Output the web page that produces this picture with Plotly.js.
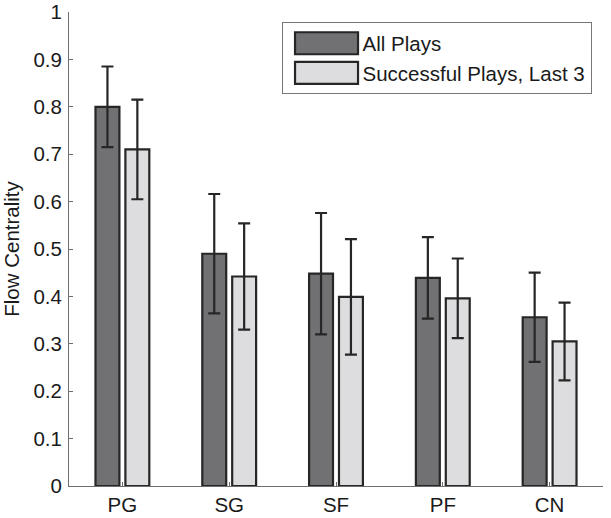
<!DOCTYPE html>
<html>
<head>
<meta charset="utf-8">
<script src="https://cdn.plot.ly/plotly-3.0.1.min.js"></script>
<style>html,body{margin:0;padding:0;background:#fff;}#chart{width:611px;height:518px;}</style>
</head>
<body>
<div id="chart"></div>
<script>
const categories = ["PG", "SG", "SF", "PF", "CN"];
const allPlays = [0.800, 0.490, 0.448, 0.439, 0.356];
const allPlaysErr = [0.085, 0.126, 0.128, 0.086, 0.094];
const successLast3 = [0.710, 0.442, 0.399, 0.396, 0.305];
const successLast3Err = [0.105, 0.112, 0.122, 0.084, 0.082];
const yTicks = [0, 0.1, 0.2, 0.3, 0.4, 0.5, 0.6, 0.7, 0.8, 0.9, 1];

const FONT = "Liberation Sans, Arial, Helvetica, sans-serif";
const EDGE = "#262626";
const TXT = "#1a1a1a";

const traces = [
  {
    type: "bar", name: "All Plays", x: categories, y: allPlays,
    marker: {color: "#717174", line: {color: EDGE, width: 2.2}},
    error_y: {type: "data", array: allPlaysErr, visible: true, color: EDGE, thickness: 2.2, width: 6}
  },
  {
    type: "bar", name: "Successful Plays, Last 3", x: categories, y: successLast3,
    marker: {color: "#dddddf", line: {color: EDGE, width: 2.2}},
    error_y: {type: "data", array: successLast3Err, visible: true, color: EDGE, thickness: 2.2, width: 6}
  }
];

const layout = {
  width: 611, height: 518,
  margin: {l: 69, r: 8, t: 12, b: 32},
  paper_bgcolor: "#fff", plot_bgcolor: "#fff",
  font: {family: FONT, size: 20.5, color: TXT},
  barmode: "group", bargap: 0.44, bargroupgap: 0.2,
  showlegend: true,
  legend: {
    x: 0.398, y: 0.978, xanchor: "left", yanchor: "top",
    bgcolor: "#fff", bordercolor: "#777", borderwidth: 1,
    font: {family: FONT, size: 20.5, color: TXT},
    itemwidth: 70, traceorder: "normal"
  },
  xaxis: {
    type: "category", range: [-0.5, 4.5],
    showline: true, linecolor: "#6e6e6e", linewidth: 1,
    ticks: "inside", ticklen: 4, tickcolor: "#6e6e6e",
    showgrid: false, zeroline: false,
    ticklabelstandoff: 0,
    tickfont: {family: FONT, size: 20.5, color: TXT}
  },
  yaxis: {
    range: [0, 1], tickvals: yTicks, ticktext: yTicks.map(String),
    showline: true, linecolor: "#6e6e6e", linewidth: 1,
    ticks: "inside", ticklen: 4, tickcolor: "#6e6e6e",
    showgrid: false, zeroline: false,
    ticklabelstandoff: 2,
    tickfont: {family: FONT, size: 20.5, color: TXT},
    title: {text: "Flow Centrality", font: {family: FONT, size: 20.5, color: TXT}, standoff: 8}
  }
};

Plotly.newPlot("chart", traces, layout, {staticPlot: true, displayModeBar: false}).then(function (gd) {
  // enlarge legend swatches to match the wide rectangles of the original
  const paths = gd.querySelectorAll(".legend .legendpoints path");
  paths.forEach(function (p) {
    p.setAttribute("d", "M-31.5,-11H31.5V11H-31.5Z");
    p.setAttribute("transform", "translate(44,0)");
    p.style.strokeWidth = "2.2px";
  });
});
</script>
</body>
</html>
